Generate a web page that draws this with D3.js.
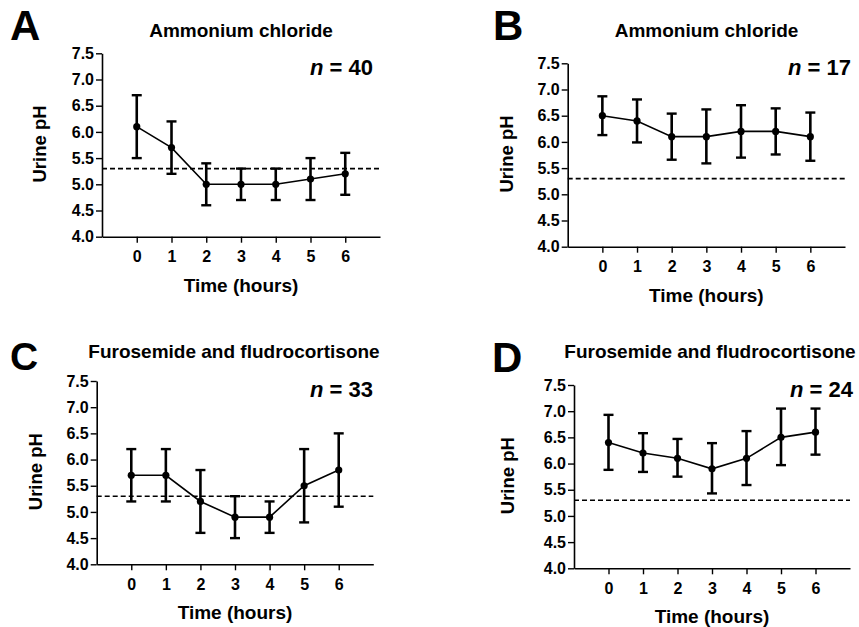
<!DOCTYPE html>
<html>
<head>
<meta charset="utf-8">
<script src="https://cdn.jsdelivr.net/npm/d3@7"></script>
<style>
  html, body { margin: 0; padding: 0; background: #fff; }
  svg { display: block; font-family: "Liberation Sans", Arial, sans-serif; font-weight: bold; }
</style>
</head>
<body>
<div id="wrapper"></div>
<script>
/* DATA */
const hours = [0, 1, 2, 3, 4, 5, 6];
const yTicks = [4.0, 4.5, 5.0, 5.5, 6.0, 6.5, 7.0, 7.5];
const threshold = 5.3;

const meanA = [6.1, 5.7, 5.0, 5.0, 5.0, 5.1, 5.2];
const lowA = [5.5, 5.2, 4.6, 4.7, 4.7, 4.7, 4.8];
const highA = [6.7, 6.2, 5.4, 5.3, 5.3, 5.5, 5.6];

const meanB = [6.5, 6.4, 6.1, 6.1, 6.2, 6.2, 6.1];
const lowB = [6.13, 5.99, 5.66, 5.59, 5.7, 5.76, 5.64];
const highB = [6.87, 6.81, 6.54, 6.62, 6.7, 6.64, 6.56];

const meanC = [5.7, 5.7, 5.2, 4.9, 4.9, 5.5, 5.8];
const lowC = [5.2, 5.2, 4.6, 4.5, 4.6, 4.8, 5.1];
const highC = [6.2, 6.2, 5.8, 5.3, 5.2, 6.2, 6.5];

const meanD = [6.4, 6.2, 6.1, 5.9, 6.1, 6.5, 6.6];
const lowD = [5.88, 5.84, 5.75, 5.43, 5.59, 5.97, 6.17];
const highD = [6.93, 6.58, 6.47, 6.39, 6.62, 7.05, 7.05];

const letters = ["A", "B", "C", "D"];
const titles = ["Ammonium chloride", "Ammonium chloride",
  "Furosemide and fludrocortisone", "Furosemide and fludrocortisone"];
const nValues = [40, 17, 33, 24];

/* LAYOUT */
const panels = [
  { mean: meanA, low: lowA, high: highA,
    left: 102, top: 53.3, right: 380, bottom: 236.7,
    titleX: 241, titleY: 37.3, letterX: 10, letterY: 40, letterSize: 42,
    nX: 373, nY: 75, ylabGap: 56 },
  { mean: meanB, low: lowB, high: highB,
    left: 567.7, top: 63.3, right: 845, bottom: 246.7,
    titleX: 706.5, titleY: 37.3, letterX: 493, letterY: 40, letterSize: 42,
    nX: 851, nY: 75, ylabGap: 55 },
  { mean: meanC, low: lowC, high: highC,
    left: 96.7, top: 381, right: 373.3, bottom: 564.3,
    titleX: 234, titleY: 357.7, letterX: 10, letterY: 370, letterSize: 39,
    nX: 373, nY: 397, ylabGap: 55 },
  { mean: meanD, low: lowD, high: highD,
    left: 574, top: 385, right: 850, bottom: 568.3,
    titleX: 710, titleY: 357.7, letterX: 492, letterY: 372, letterSize: 42,
    nX: 853, nY: 397, ylabGap: 60 },
];

const svg = d3.select("#wrapper")
  .append("svg")
  .attr("width", 859)
  .attr("height", 627);

panels.forEach((p, i) => {
  const xScale = d3.scaleLinear().domain([-1, 7]).range([p.left, p.right]);
  const yScale = d3.scaleLinear().domain([4, 7.5]).range([p.bottom, p.top]);
  const g = svg.append("g");

  // panel letter + title
  g.append("text")
    .attr("x", p.letterX).attr("y", p.letterY)
    .attr("font-size", p.letterSize)
    .text(letters[i]);
  g.append("text")
    .attr("x", p.titleX).attr("y", p.titleY)
    .attr("text-anchor", "middle")
    .attr("font-size", 19)
    .text(titles[i]);

  // n label
  const nText = g.append("text")
    .attr("x", p.nX).attr("y", p.nY)
    .attr("text-anchor", "end")
    .attr("font-size", 22)
    .attr("xml:space", "preserve");
  nText.append("tspan").attr("font-style", "italic").text("n");
  nText.append("tspan").text(" = " + nValues[i]);

  // axes
  const yAxis = g.append("g")
    .attr("transform", `translate(${p.left},0)`)
    .call(d3.axisLeft(yScale).tickValues(yTicks).tickFormat(d3.format(".1f"))
      .tickSize(6).tickSizeOuter(0).tickPadding(2));
  const xAxis = g.append("g")
    .attr("transform", `translate(0,${p.bottom})`)
    .call(d3.axisBottom(xScale).tickValues(hours).tickFormat(d3.format("d"))
      .tickSize(6).tickSizeOuter(0).tickPadding(8));
  [yAxis, xAxis].forEach(ax => {
    ax.select(".domain").attr("stroke", "#000").attr("stroke-width", 1.6);
    ax.selectAll(".tick line").attr("stroke", "#000").attr("stroke-width", 1.4);
    ax.selectAll(".tick text")
      .attr("fill", "#000")
      .attr("font-size", 16)
      .attr("font-weight", "bold")
      .attr("font-family", "Liberation Sans, Arial, sans-serif");
  });

  // axis titles
  g.append("text")
    .attr("transform", `translate(${p.left - p.ylabGap},${(p.top + p.bottom) / 2 - 1}) rotate(-90)`)
    .attr("text-anchor", "middle")
    .attr("font-size", 18.5)
    .text("Urine pH");
  g.append("text")
    .attr("x", (p.left + p.right) / 2)
    .attr("y", p.bottom + 55)
    .attr("text-anchor", "middle")
    .attr("font-size", 19)
    .text("Time (hours)");

  // threshold
  g.append("line")
    .attr("x1", xScale(-1)).attr("x2", xScale(7))
    .attr("y1", yScale(threshold)).attr("y2", yScale(threshold))
    .attr("stroke", "#000")
    .attr("stroke-width", 1.6)
    .attr("stroke-dasharray", "5,3");

  // error bars
  const bars = g.append("g").selectAll("g")
    .data(hours)
    .join("g");
  bars.append("line")
    .attr("x1", d => xScale(d)).attr("x2", d => xScale(d))
    .attr("y1", (d, j) => yScale(p.low[j])).attr("y2", (d, j) => yScale(p.high[j]))
    .attr("stroke", "#000").attr("stroke-width", 2.6);
  ["low", "high"].forEach(k => {
    bars.append("line")
      .attr("x1", d => xScale(d) - 5).attr("x2", d => xScale(d) + 5)
      .attr("y1", (d, j) => yScale(p[k][j])).attr("y2", (d, j) => yScale(p[k][j]))
      .attr("stroke", "#000").attr("stroke-width", 2.4);
  });

  // mean line + points
  const lineGenerator = d3.line()
    .x((d, j) => xScale(hours[j]))
    .y(d => yScale(d));
  g.append("path")
    .attr("d", lineGenerator(p.mean))
    .attr("fill", "none")
    .attr("stroke", "#000")
    .attr("stroke-width", 1.6);
  g.append("g").selectAll("circle")
    .data(p.mean)
    .join("circle")
    .attr("cx", (d, j) => xScale(hours[j]))
    .attr("cy", d => yScale(d))
    .attr("r", 3.6)
    .attr("fill", "#000");
});
</script>
</body>
</html>
